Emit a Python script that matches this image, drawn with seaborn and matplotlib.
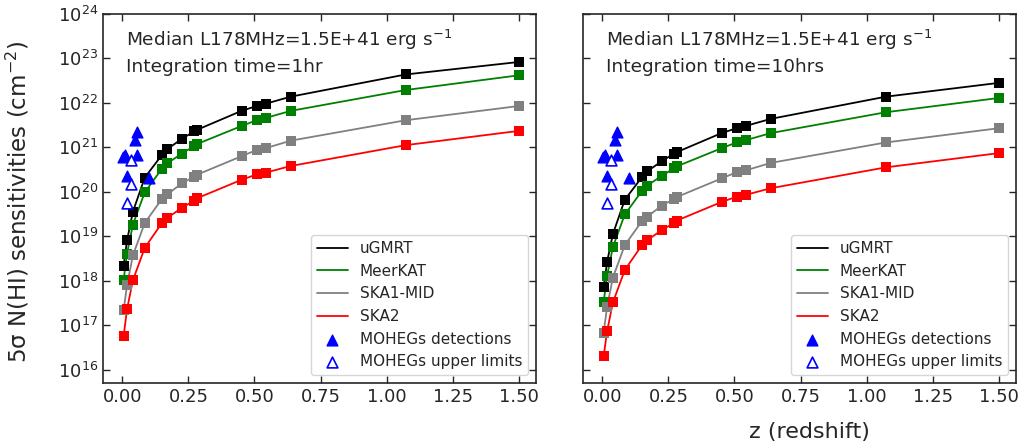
import numpy as np
import pandas as pd
import seaborn as sns
import matplotlib
matplotlib.use('Agg')
import matplotlib.pyplot as plt
from matplotlib.ticker import NullLocator


# redshifts of the sensitivity curves
z_grid = [0.005, 0.018, 0.040, 0.085, 0.150, 0.170, 0.225, 0.272, 0.281,
          0.451, 0.508, 0.542, 0.637, 1.073, 1.500]

# log10 N(HI) 5 sigma sensitivities, 1 hr
ugmrt_1hr = [18.34, 18.91, 19.55, 20.32, 20.83, 20.96, 21.19, 21.36, 21.39,
             21.82, 21.93, 21.98, 22.14, 22.64, 22.92]
meerkat_1hr = [18.02, 18.61, 19.26, 19.99, 20.52, 20.64, 20.86, 21.03, 21.07,
               21.48, 21.61, 21.66, 21.82, 22.29, 22.62]
ska1_1hr = [17.33, 17.91, 18.57, 19.30, 19.84, 19.94, 20.19, 20.34, 20.38,
            20.80, 20.94, 20.98, 21.15, 21.61, 21.93]
ska2_1hr = [16.76, 17.36, 18.01, 18.74, 19.30, 19.41, 19.64, 19.80, 19.85,
            20.27, 20.39, 20.43, 20.58, 21.05, 21.37]

# log10 N(HI) 5 sigma sensitivities, 10 hrs
ugmrt_10hr = [17.85, 18.42, 19.05, 19.82, 20.33, 20.46, 20.69, 20.86, 20.89,
              21.32, 21.43, 21.48, 21.64, 22.14, 22.45]
meerkat_10hr = [17.52, 18.11, 18.76, 19.49, 20.02, 20.14, 20.36, 20.53, 20.57,
                20.98, 21.11, 21.16, 21.32, 21.79, 22.11]
ska1_10hr = [16.83, 17.41, 18.07, 18.80, 19.34, 19.44, 19.69, 19.84, 19.88,
             20.30, 20.44, 20.48, 20.65, 21.11, 21.43]
ska2_10hr = [16.30, 16.86, 17.51, 18.24, 18.80, 18.91, 19.14, 19.30, 19.35,
             19.77, 19.89, 19.93, 20.08, 20.55, 20.87]

# MOHEGs
det_z = [0.057, 0.048, 0.003, 0.010, 0.054, 0.017, 0.102]
det_logN = [21.35, 21.16, 20.79, 20.83, 20.82, 20.36, 20.32]
ul_z = [0.032, 0.034, 0.017]
ul_logN = [20.72, 20.17, 19.75]

telescopes = ['uGMRT', 'MeerKAT', 'SKA1-MID', 'SKA2']
colors = ['black', 'green', 'grey', 'red']
panels = [
    ('Integration time=1hr', [ugmrt_1hr, meerkat_1hr, ska1_1hr, ska2_1hr]),
    ('Integration time=10hrs', [ugmrt_10hr, meerkat_10hr, ska1_10hr, ska2_10hr]),
]

sns.set_style('ticks')
plt.rcParams['font.family'] = ['DejaVu Sans']

fig = plt.figure(figsize=(10.25, 4.48), dpi=100)
ax1 = fig.add_axes([0.1005, 0.1451, 0.4224, 0.8237])
ax2 = fig.add_axes([0.5688, 0.1451, 0.4224, 0.8237], sharey=ax1)

for ax, (tlabel, series) in zip([ax1, ax2], panels):
    for name, vals, c in zip(telescopes, series, colors):
        sns.lineplot(x=z_grid, y=10.0 ** np.array(vals), color=c, lw=1.3,
                     label=name, ax=ax, legend=False)
    for vals, c in zip(series, colors):
        sns.scatterplot(x=z_grid, y=10.0 ** np.array(vals), color=c,
                        marker='s', s=42, linewidth=0, ax=ax, legend=False,
                        zorder=3)
    sns.scatterplot(x=det_z, y=10.0 ** np.array(det_logN), color='blue',
                    marker='^', s=60, edgecolor='blue', linewidth=1,
                    label='MOHEGs detections', ax=ax, legend=False, zorder=4)
    sns.scatterplot(x=ul_z, y=10.0 ** np.array(ul_logN), color='white',
                    marker='^', s=60, edgecolor='blue', linewidth=1.2,
                    label='MOHEGs upper limits', ax=ax, legend=False, zorder=4)

    ax.set_yscale('log')
    ax.set_ylim(5e15, 1e24)
    ax.set_xlim(-0.073, 1.565)
    ax.set_yticks([10.0 ** k for k in range(16, 25)])
    ax.yaxis.set_minor_locator(NullLocator())
    ax.set_xticks([0, 0.25, 0.5, 0.75, 1.0, 1.25, 1.5])
    ax.tick_params(direction='in', top=True, right=True, labelsize=13,
                   length=5, width=1)
    for sp in ax.spines.values():
        sp.set_linewidth(1.2)

    ax.text(0.053, 0.93, 'Median L178MHz=1.5E+41 erg s$^{-1}$',
            transform=ax.transAxes, fontsize=13.3, va='center')
    ax.text(0.053, 0.855, tlabel, transform=ax.transAxes, fontsize=13.3,
            va='center')

    ax.legend(loc='lower right', fontsize=11)

ax2.tick_params(labelleft=False)
ax1.set_ylabel('5σ N(HI) sensitivities (cm$^{-2}$)', fontsize=16.5)
ax1.yaxis.set_label_coords(-0.165, 0.49)
ax2.set_xlabel('z (redshift)', fontsize=16)
ax2.xaxis.set_label_coords(0.524, -0.105)

plt.savefig('out.png', dpi=100)
